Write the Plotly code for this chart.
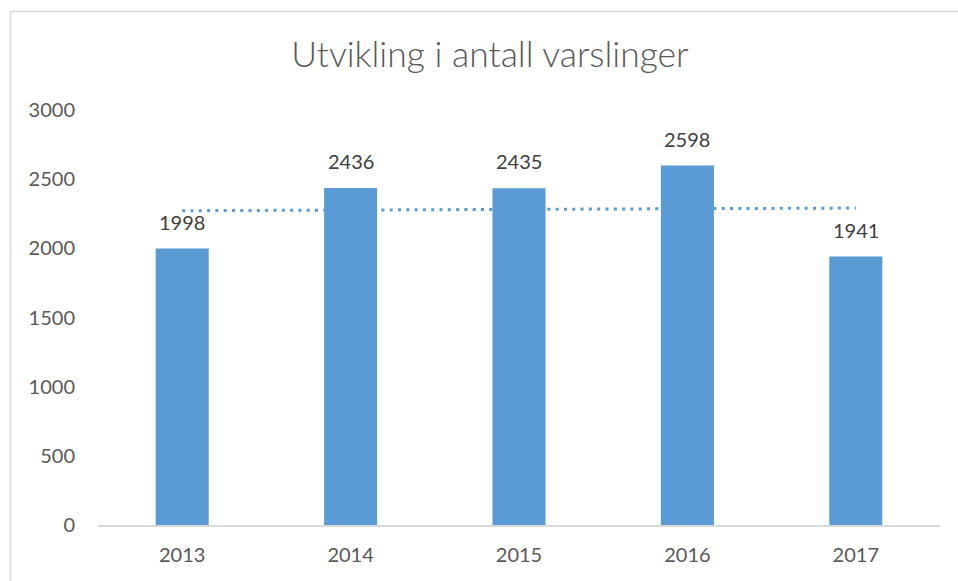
import numpy as np
import plotly.graph_objects as go

years = ["2013", "2014", "2015", "2016", "2017"]
varslinger = [1998, 2436, 2435, 2598, 1941]
y_ticks = [0, 500, 1000, 1500, 2000, 2500, 3000]
title_text = "Utvikling i antall varslinger"

W, H = 958, 581
L, R, T, B = 98, 18, 110, 56
FONT = "Lato, Calibri, Carlito, sans-serif"
BAR = "#5b9bd5"

# linear trendline (as Excel's)
xi = np.arange(len(varslinger))
slope, icpt = np.polyfit(xi, varslinger, 1)
trend = slope * xi + icpt

fig = go.Figure()
fig.add_trace(go.Bar(
    x=years, y=varslinger, width=0.315,
    marker=dict(color=BAR, line=dict(width=0)),
    showlegend=False,
))
fig.add_trace(go.Scatter(
    x=years, y=trend, mode="lines",
    line=dict(color=BAR, width=3, dash="3px,5.3px"),
    showlegend=False, hoverinfo="skip",
))

# data labels (category index positions on the category axis)
annotations = [
    dict(x=i, y=v, xref="x", yref="y", text=str(v), showarrow=False,
         yshift=27, yanchor="middle",
         font=dict(family=FONT, size=20, color="#404040"))
    for i, v in enumerate(varslinger)
]

pw = W - L - R
ph = H - T - B
def px2paper_x(px):
    return (px - L) / pw
def py2paper_y(py):
    return (H - B - py) / ph

fig.update_layout(
    width=W, height=H,
    margin=dict(l=L, r=R, t=T, b=B, pad=0),
    paper_bgcolor="white", plot_bgcolor="white",
    title=dict(text=title_text, x=490 / W, xanchor="center",
               y=1 - 55 / H, yanchor="middle",
               font=dict(family=FONT, size=35.5, color="#595959", weight=300)),
    xaxis=dict(type="category", range=[-0.5, len(years) - 0.5],
               showgrid=False, zeroline=False,
               showline=True, linecolor="#d9d9d9", linewidth=1.5,
               ticks="", ticklabelstandoff=11,
               tickfont=dict(family=FONT, size=20, color="#595959")),
    yaxis=dict(range=[0, 3000], tickvals=y_ticks,
               ticktext=[str(v) for v in y_ticks],
               showgrid=False, zeroline=False, showline=False,
               ticks="", ticklabelstandoff=22,
               tickfont=dict(family=FONT, size=20, color="#595959")),
    bargap=0.685,
    annotations=annotations,
    shapes=[dict(type="rect", xref="paper", yref="paper",
                 x0=px2paper_x(10.5), x1=px2paper_x(990),
                 y0=py2paper_y(620), y1=py2paper_y(11.5),
                 line=dict(color="#d9d9d9", width=1.5),
                 fillcolor="rgba(0,0,0,0)", layer="below")],
)

fig.write_html(
    "out.html",
    config={"displayModeBar": False},
    post_script="document.body.style.margin='0';document.body.style.overflow='hidden';",
)
